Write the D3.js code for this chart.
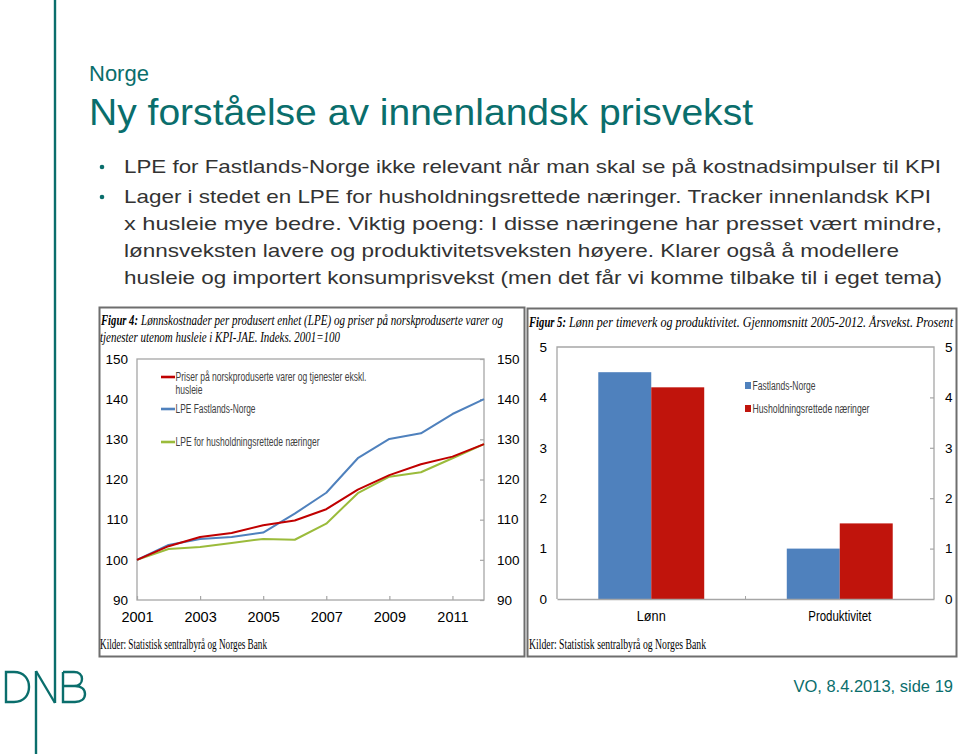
<!DOCTYPE html>
<html>
<head>
<meta charset="utf-8">
<script src="https://cdn.jsdelivr.net/npm/d3@7"></script>
<style>
  html, body { margin: 0; padding: 0; background: #fff; }
  svg { display: block; }
</style>
</head>
<body>
<script>
// ---------------- DATA ----------------
const years = [2001, 2002, 2003, 2004, 2005, 2006, 2007, 2008, 2009, 2010, 2011, 2012];
const priserKPI = [100, 103.4, 105.7, 106.7, 108.6, 109.8, 112.6, 117.5, 121.1, 123.8, 125.7, 128.8];
const lpeFastland = [100, 103.7, 105.2, 105.7, 106.8, 111.5, 116.7, 125.3, 130.1, 131.5, 136.3, 140.0];
const lpeHushold = [100, 102.7, 103.2, 104.2, 105.2, 105.0, 109.0, 116.6, 120.7, 121.8, 125.3, 128.8];
const lineLegend = [
  "Priser på norskproduserte varer og tjenester ekskl.",
  "LPE  Fastlands-Norge",
  "LPE for husholdningsrettede næringer"
];
const yTicksLeft = [90, 100, 110, 120, 130, 140, 150];
const xTickYears = [2001, 2003, 2005, 2007, 2009, 2011];

const barCategories = ["Lønn", "Produktivitet"];
const barSeries = ["Fastlands-Norge", "Husholdningsrettede næringer"];
const barFastland = [4.5, 1.0];
const barHushold = [4.2, 1.5];
const yTicksRight = [0, 1, 2, 3, 4, 5];

const bullets = [
  ["LPE for Fastlands-Norge ikke relevant når man skal se på kostnadsimpulser til KPI"],
  ["Lager i stedet en LPE for husholdningsrettede næringer. Tracker innenlandsk KPI",
   "x husleie mye bedre. Viktig poeng: I disse næringene har presset vært mindre,",
   "lønnsveksten lavere og produktivitetsveksten høyere. Klarer også å modellere",
   "husleie og importert konsumprisvekst (men det får vi komme tilbake til i eget tema)"]
];

// ---------------- SETUP ----------------
const W = 960, H = 754;
const teal = "#0a6e6c";
const sans = "'Liberation Sans', Arial, sans-serif";
const narrow = "'Liberation Sans Narrow', 'Liberation Sans', Arial, sans-serif";
const serif = "'Liberation Serif', 'Times New Roman', serif";
const cRed = "#c00000", cBlue = "#4f81bd", cGreen = "#9bbb3b";
const cBarRed = "#c0140c", cBarBlue = "#4f81bd";
const frameGrey = "#a6a6a6";

const svg = d3.select("body").append("svg").attr("width", W).attr("height", H);

function txt(g, x, y, s, opt = {}) {
  const t = g.append("text").attr("x", x).attr("y", y).text(s)
    .attr("font-family", opt.family || sans)
    .attr("font-size", opt.size || 13)
    .attr("fill", opt.fill || "#000");
  if (opt.anchor) t.attr("text-anchor", opt.anchor);
  if (opt.style) t.attr("font-style", opt.style);
  if (opt.weight) t.attr("font-weight", opt.weight);
  if (opt.len) t.attr("textLength", opt.len).attr("lengthAdjust", "spacingAndGlyphs");
  return t;
}
// condensed text: small font stretched vertically
function ctxt(g, x, y, s, sy, opt) {
  const gg = g.append("g").attr("transform", `translate(${x},${y}) scale(1,${sy})`);
  return txt(gg, 0, 0, s, opt);
}

// ---------------- SLIDE DECOR ----------------
const logo = svg.append("g").attr("stroke", teal).attr("fill", "none").attr("stroke-width", 2.4);
logo.append("line").attr("x1", 55).attr("y1", 0).attr("x2", 55).attr("y2", 703);
logo.append("line").attr("x1", 36).attr("y1", 671).attr("x2", 36).attr("y2", 754);
logo.append("line").attr("x1", 36).attr("y1", 671).attr("x2", 55).attr("y2", 703);
logo.append("path").attr("d", "M6,672 L6,702 L14,702 C24,702 29,695 29,687 C29,679 24,672 14,672 Z");
logo.append("path").attr("d", "M63,672 L63,702 L75,702 C81,702 85,699 85,694 C85,689 81,686 75,686 L63,686 M63,672 L74,672 C79,672 82,675 82,679 C82,683 79,686 74,686");

txt(svg, 89, 81, "Norge", {size: 22, fill: teal});
txt(svg, 89, 125, "Ny forståelse av innenlandsk prisvekst", {size: 36, fill: teal, len: 664});

const bulletLens = [[817], [807, 818, 775, 818]];
const baselines = [[173], [203, 230, 257, 283.5]];
bullets.forEach((lines, i) => {
  svg.append("circle").attr("cx", 102).attr("cy", baselines[i][0] - 6).attr("r", 2.3).attr("fill", teal);
  lines.forEach((l, j) => {
    txt(svg, 124, baselines[i][j], l, {size: 18.5, fill: "#333", len: bulletLens[i][j]});
  });
});

txt(svg, 953, 692, "VO, 8.4.2013, side 19", {size: 16.5, fill: teal, anchor: "end"});

// ---------------- LEFT CHART ----------------
const L = svg.append("g");
L.append("rect").attr("x", 99.5).attr("y", 307.5).attr("width", 425).attr("height", 349)
  .attr("fill", "#fff").attr("stroke", "#6e6e6e").attr("stroke-width", 2);

ctxt(L, 101, 325, "Figur 4:", 1.45, {family: serif, size: 10, style: "italic", weight: "bold", len: 37});
ctxt(L, 141, 325, "Lønnskostnader per produsert enhet (LPE) og priser på norskproduserte varer og", 1.45,
  {family: serif, size: 10.5, style: "italic", len: 362});
ctxt(L, 100, 342, "tjenester utenom husleie i KPI-JAE. Indeks. 2001=100", 1.45, {family: serif, size: 10.5, style: "italic", len: 240});
ctxt(L, 100, 649, "Kilder: Statistisk sentralbyrå og Norges Bank", 1.4, {family: serif, size: 10, len: 167});

const xL = d3.scaleLinear().domain([2001, 2012]).range([137, 484]);
const yL = d3.scaleLinear().domain([90, 150]).range([600, 359]);

L.append("rect").attr("x", xL(2001)).attr("y", yL(150)).attr("width", xL(2012) - xL(2001))
  .attr("height", yL(90) - yL(150)).attr("fill", "none").attr("stroke", frameGrey).attr("stroke-width", 1.3);

function styleAxis(g) {
  g.select(".domain").remove();
  g.selectAll(".tick line").attr("stroke", frameGrey).attr("stroke-width", 1.2);
  g.selectAll(".tick text").attr("font-family", sans).attr("fill", "#000");
}

L.append("g").attr("transform", `translate(${xL(2001)},0)`)
  .call(d3.axisLeft(yL).tickValues(yTicksLeft).tickSize(0).tickPadding(9))
  .call(styleAxis).call(g => g.selectAll(".tick text").attr("font-size", 13.5));
L.append("g").attr("transform", `translate(${xL(2012)},0)`)
  .call(d3.axisRight(yL).tickValues(yTicksLeft).tickSizeInner(-4).tickSizeOuter(0).tickPadding(13))
  .call(styleAxis).call(g => g.selectAll(".tick text").attr("font-size", 13.5));
L.append("g").attr("transform", `translate(0,${yL(90)})`)
  .call(d3.axisBottom(xL).tickValues(xTickYears).tickFormat(d3.format("d")).tickSizeInner(-4).tickSizeOuter(0).tickPadding(12))
  .call(styleAxis).call(g => g.selectAll(".tick text").attr("font-size", 14.5));

const lineGen = d3.line().x((d, i) => xL(years[i])).y(d => yL(d));
[[lpeHushold, cGreen], [lpeFastland, cBlue], [priserKPI, cRed]].forEach(([s, c]) => {
  L.append("path").datum(s).attr("d", lineGen).attr("fill", "none")
    .attr("stroke", c).attr("stroke-width", 2).attr("stroke-linejoin", "round");
});

const legY = [377, 409, 442];
const legC = [cRed, cBlue, cGreen];
const legLen = [191, 80, 144];
lineLegend.forEach((s, i) => {
  L.append("line").attr("x1", 161).attr("x2", 175).attr("y1", legY[i]).attr("y2", legY[i])
    .attr("stroke", legC[i]).attr("stroke-width", 2.6);
  txt(L, 175.5, legY[i] + 4, s, {family: narrow, size: 12, fill: "#404040", len: legLen[i]});
});
txt(L, 175.5, 394, "husleie", {family: narrow, size: 12, fill: "#404040", len: 27});

// ---------------- RIGHT CHART ----------------
const R = svg.append("g");
R.append("rect").attr("x", 527.5).attr("y", 308.5).attr("width", 429).attr("height", 348)
  .attr("fill", "#fff").attr("stroke", "#6e6e6e").attr("stroke-width", 2);

ctxt(R, 529, 327, "Figur 5:", 1.45, {family: serif, size: 10, style: "italic", weight: "bold", len: 37});
ctxt(R, 569, 327, "Lønn per timeverk og produktivitet. Gjennomsnitt 2005-2012. Årsvekst. Prosent", 1.45,
  {family: serif, size: 10.5, style: "italic", len: 384});
ctxt(R, 529, 649, "Kilder: Statistisk sentralbyrå og Norges Bank", 1.4, {family: serif, size: 10, len: 177});

const x0 = d3.scaleBand().domain(barCategories).range([557, 934]).paddingInner(0.438).paddingOuter(0.219);
const x1 = d3.scaleBand().domain(barSeries).range([0, x0.bandwidth()]);
const yR = d3.scaleLinear().domain([0, 5]).range([599, 347]);

R.append("path").attr("d", `M${x0.range()[0]},${yR(0)} V${yR(5)} H${x0.range()[1]} V${yR(0)}`)
  .attr("fill", "none").attr("stroke", frameGrey).attr("stroke-width", 1.3);

R.append("g").attr("transform", `translate(${x0.range()[0]},0)`)
  .call(d3.axisLeft(yR).tickValues(yTicksRight).tickFormat(d3.format("d")).tickSize(0).tickPadding(10))
  .call(styleAxis).call(g => g.selectAll(".tick text").attr("font-size", 13.5));
R.append("g").attr("transform", `translate(${x0.range()[1]},0)`)
  .call(d3.axisRight(yR).tickValues(yTicksRight).tickFormat(d3.format("d")).tickSizeInner(-4).tickSizeOuter(0).tickPadding(11))
  .call(styleAxis).call(g => g.selectAll(".tick text").attr("font-size", 13.5))
  .call(g => g.selectAll(".tick").filter(d => d === 0 || d === 5).select("line").remove());

const barData = barCategories.map((c, i) => ({c, vals: [barFastland[i], barHushold[i]]}));
const barCol = [cBarBlue, cBarRed];
const grp = R.selectAll("g.bars").data(barData).join("g").attr("class", "bars")
  .attr("transform", d => `translate(${x0(d.c)},0)`);
grp.selectAll("rect").data(d => d.vals.map((v, k) => ({v, s: barSeries[k], k})))
  .join("rect")
  .attr("x", d => x1(d.s)).attr("width", x1.bandwidth())
  .attr("y", d => yR(d.v)).attr("height", d => yR(0) - yR(d.v))
  .attr("fill", d => barCol[d.k]);

R.append("g").attr("transform", `translate(0,${yR(0)})`)
  .call(d3.axisBottom(x0).tickSize(0).tickPadding(12))
  .call(g => g.select(".domain").attr("stroke", frameGrey).attr("stroke-width", 1.3))
  .call(g => g.selectAll(".tick text").attr("font-family", narrow).attr("font-size", 14).attr("fill", "#000")
    .attr("textLength", (d, i) => [29, 63][i]).attr("lengthAdjust", "spacingAndGlyphs"));
R.append("line").attr("x1", (x0.range()[0] + x0.range()[1]) / 2).attr("x2", (x0.range()[0] + x0.range()[1]) / 2)
  .attr("y1", yR(0)).attr("y2", yR(0) - 3).attr("stroke", frameGrey);

const rLegY = [386, 409];
const rLegLen = [63, 117];
barSeries.forEach((s, i) => {
  R.append("rect").attr("x", 745).attr("y", rLegY[i] - 4).attr("width", 6).attr("height", 7).attr("fill", barCol[i]);
  txt(R, 752.5, rLegY[i] + 4, s, {family: narrow, size: 12, fill: "#404040", len: rLegLen[i]});
});
</script>
</body>
</html>
